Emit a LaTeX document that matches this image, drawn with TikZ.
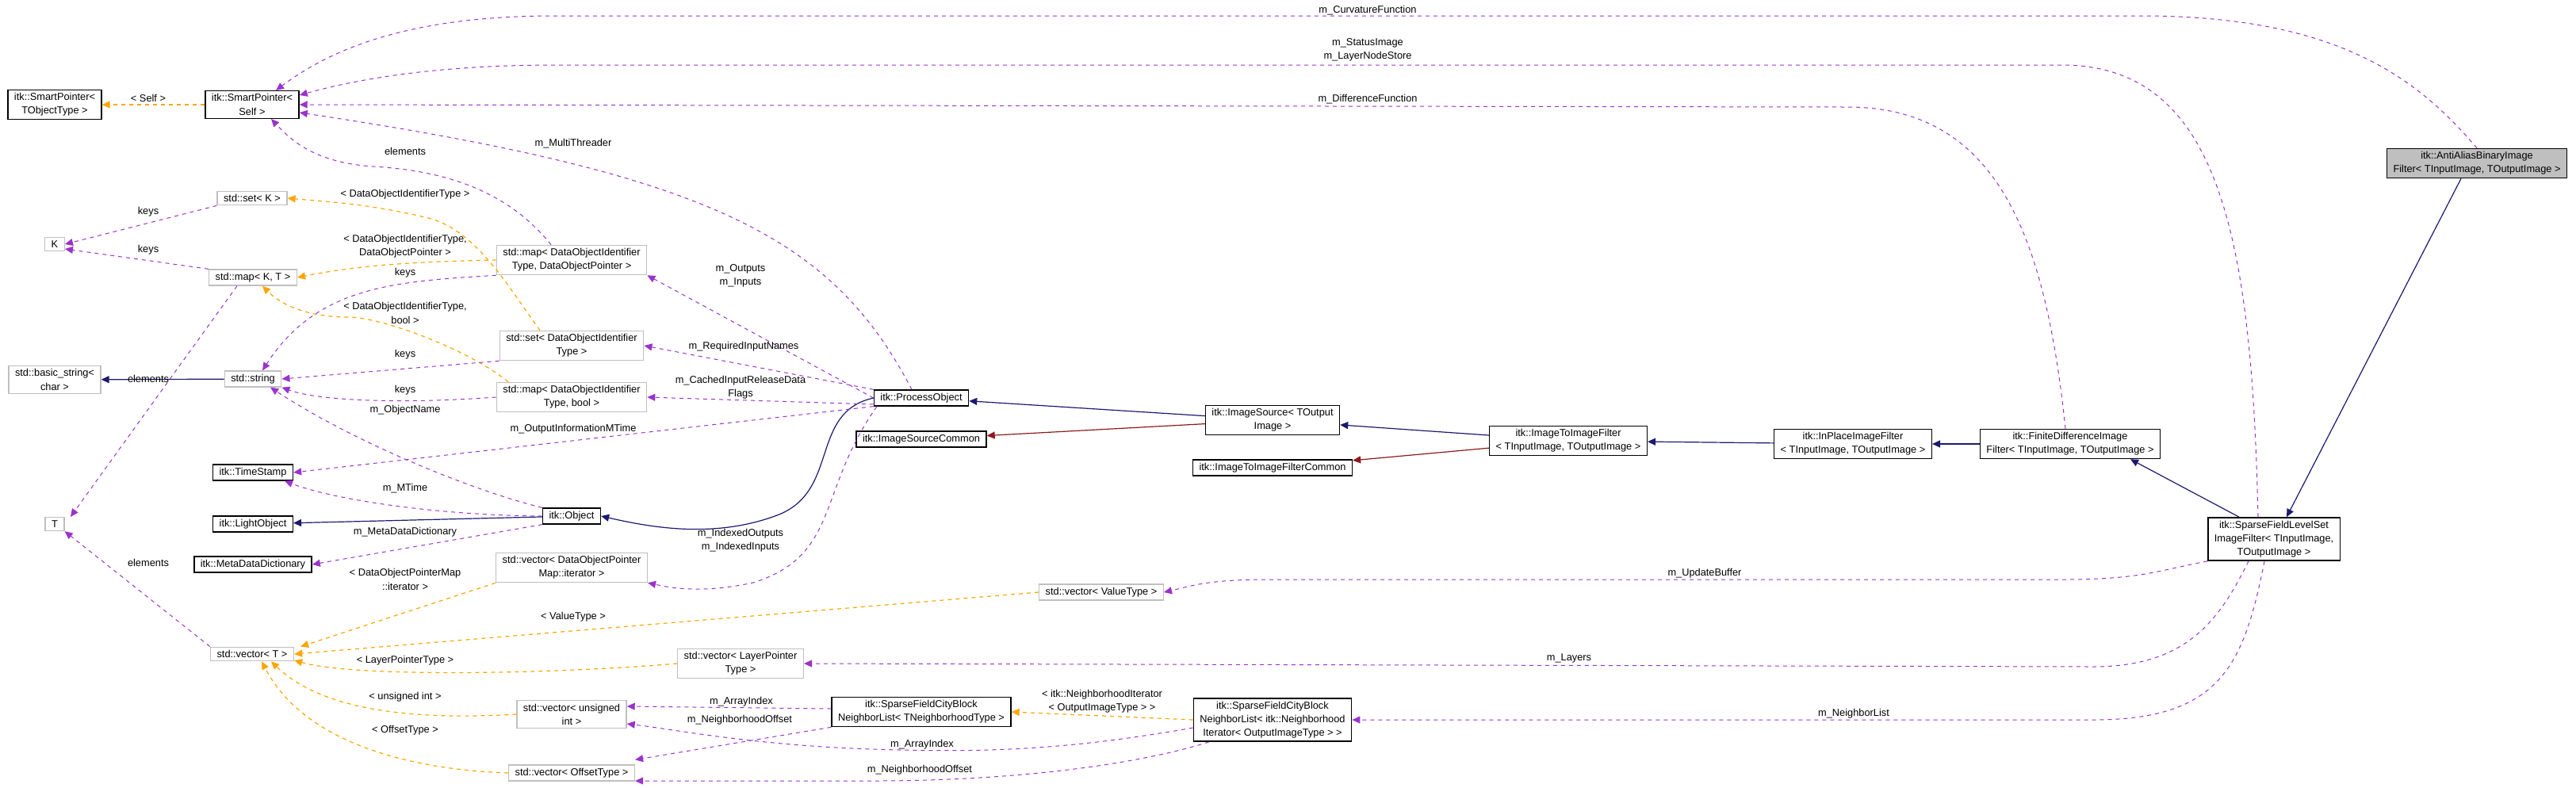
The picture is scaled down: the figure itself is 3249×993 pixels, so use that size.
\documentclass[tikz,border=0pt]{standalone}
\usepackage{fontspec}
\setmainfont{Liberation Sans}
\usetikzlibrary{arrows.meta,positioning,calc}

\definecolor{usecol}{HTML}{9A32CD}
\definecolor{tplcol}{HTML}{FFA500}
\definecolor{inhcol}{HTML}{191970}
\definecolor{comcol}{HTML}{8B1A1A}

\tikzset{
  cls/.style={draw=black, line width=0.7pt, fill=white, inner xsep=4pt, inner ysep=2pt, align=center, font=\fontsize{6.4}{8.6}\selectfont},
  ext/.style={cls, draw=black!25},
  lbl/.style={inner sep=0pt, align=center, font=\fontsize{6.4}{8.6}\selectfont},
  tip/.style={-{Triangle[length=5pt,width=4.5pt]}},
  use/.style={tip, usecol, line width=0.5pt, dash pattern=on 2.5pt off 2.5pt},
  tpl/.style={tip, tplcol, line width=0.6pt, dash pattern=on 2.5pt off 2.5pt},
  inh/.style={tip, inhcol, line width=0.6pt},
  com/.style={tip, comcol, line width=0.6pt}
}

\begin{document}
\begin{tikzpicture}[x=0.5pt, y=-0.5pt]
        \useasboundingbox (0,0) rectangle (3249,993);
        % Classes
        \node[cls] (tobj) at (69,132) {itk::SmartPointer\textless\\TObjectType \textgreater};
        \node[cls] (sps) at (318,132) {itk::SmartPointer\textless\\Self \textgreater};
        \node[ext] (setk) at (318,250) {std::set\textless{} K \textgreater};
        \node[ext] (k) at (69,308) {K};
        \node[ext] (mapkt) at (319,350) {std::map\textless{} K, T \textgreater};
        \node[ext] (mapdop) at (721,328) {std::map\textless{} DataObjectIdentifier\\Type, DataObjectPointer \textgreater};
        \node[ext] (setdoi) at (721,436) {std::set\textless{} DataObjectIdentifier\\Type \textgreater};
        \node[ext] (mapdoib) at (721,501) {std::map\textless{} DataObjectIdentifier\\Type, bool \textgreater};
        \node[ext] (basic) at (69,479) {std::basic\_string\textless\\char \textgreater};
        \node[ext] (string) at (319,478) {std::string};
        \node[cls] (timestamp) at (319,596) {itk::TimeStamp};
        \node[cls] (lightobj) at (319,661) {itk::LightObject};
        \node[cls] (object) at (721,651) {itk::Object};
        \node[ext] (t) at (69,661) {T};
        \node[cls] (mdd) at (319,712) {itk::MetaDataDictionary};
        \node[ext] (vecdopm) at (721,716) {std::vector\textless{} DataObjectPointer\\Map::iterator \textgreater};
        \node[ext] (vect) at (318,825) {std::vector\textless{} T \textgreater};
        \node[ext] (veclpt) at (934,837) {std::vector\textless{} LayerPointer\\Type \textgreater};
        \node[ext] (vecui) at (721,901) {std::vector\textless{} unsigned\\int \textgreater};
        \node[ext] (vecot) at (721,975) {std::vector\textless{} OffsetType \textgreater};
        \node[cls] (procobj) at (1162,502) {itk::ProcessObject};
        \node[cls] (iscommon) at (1162,554) {itk::ImageSourceCommon};
        \node[cls] (imgsource) at (1605,530) {itk::ImageSource\textless{} TOutput\\Image \textgreater};
        \node[cls] (iifcommon) at (1605,590) {itk::ImageToImageFilterCommon};
        \node[cls] (iif) at (1978,556) {itk::ImageToImageFilter\\\textless{} TInputImage, TOutputImage \textgreater};
        \node[ext] (vecvt) at (1389,747) {std::vector\textless{} ValueType \textgreater};
        \node[cls] (nbtempl) at (1162,898) {itk::SparseFieldCityBlock\\NeighborList\textless{} TNeighborhoodType \textgreater};
        \node[cls] (nblist) at (1605,908) {itk::SparseFieldCityBlock\\NeighborList\textless{} itk::Neighborhood\\Iterator\textless{} OutputImageType \textgreater{} \textgreater};
        \node[cls] (inplace) at (2337,560) {itk::InPlaceImageFilter\\\textless{} TInputImage, TOutputImage \textgreater};
        \node[cls] (fdif) at (2611,560) {itk::FiniteDifferenceImage\\Filter\textless{} TInputImage, TOutputImage \textgreater};
        \node[cls] (sfls) at (2868,680) {itk::SparseFieldLevelSet\\ImageFilter\textless{} TInputImage,\\TOutputImage \textgreater};
        \node[cls, fill=black!25] (antialias) at (3124,206) {itk::AntiAliasBinaryImage\\Filter\textless{} TInputImage, TOutputImage \textgreater};

        % Inheritance
        \draw[inh] (string) -- (basic);
        \draw[inh] (object) -- (lightobj);
        \draw[inh] (procobj.west) .. controls (1020,520) and (1060,620) .. (980,650) .. controls (900,680) and (820,665) .. (object.east);
        \draw[inh] (imgsource) -- (procobj);
        \draw[com] (imgsource) -- (iscommon);
        \draw[inh] (iif) -- (imgsource);
        \draw[com] (iif) -- (iifcommon);
        \draw[inh] (inplace) -- (iif);
        \draw[inh] (fdif) -- (inplace);
        \draw[inh] ([xshift=-22pt]sfls.north) -- ([xshift=38pt]fdif.south);
        \draw[inh] ([xshift=-10pt]antialias.south) -- ([xshift=8pt]sfls.north);

        % Template instances
        \draw[tpl] (sps) -- (tobj);
        \draw[tpl] (mapdop.west) .. controls (520,330) and (450,335) .. (mapkt.east);
        \draw[tpl] ([xshift=-40pt]mapdoib.north) .. controls (590,440) and (480,400) .. (440,400) .. controls (380,400) and (350,380) .. ([xshift=6pt]mapkt.south);
        \draw[tpl] ([xshift=-20pt]setdoi.north) .. controls (640,360) and (600,290) .. (540,275) .. controls (470,258) and (420,255) .. (setk.east);
        \draw[tpl] (vecdopm.south west) -- ([xshift=4pt]vect.north east);
        \draw[tpl] (vecvt.west) -- (vect.east);
        \draw[tpl] (veclpt.west) .. controls (700,850) and (450,855) .. ([yshift=-4pt]vect.east);
        \draw[tpl] (vecui.west) .. controls (500,910) and (400,890) .. ([xshift=12pt]vect.south);
        \draw[tpl] (vecot.west) .. controls (500,970) and (380,930) .. ([xshift=6pt]vect.south);
        \draw[tpl] (nblist.west) -- (nbtempl.east);

        % Members
        \draw[use] (antialias.north) .. controls (3050,100) and (2950,20) .. (2700,20) -- (700,20) .. controls (520,20) and (420,60) .. ([xshift=15pt]sps.north);
        \draw[use] ([xshift=-10pt]sfls.north) .. controls (2840,300) and (2800,82) .. (2600,82) -- (700,82) .. controls (550,82) and (450,100) .. ([yshift=6pt]sps.east);
        \draw[use] ([xshift=-3pt]fdif.north) .. controls (2580,300) and (2520,135) .. (2330,135) -- (sps.east);
        \draw[use] ([xshift=-6pt]procobj.north) .. controls (1050,300) and (900,220) .. ([yshift=-5pt]sps.east);
        \draw[use] ([xshift=-13pt]mapdop.north) .. controls (640,240) and (560,215) .. (470,210) .. controls (400,205) and (370,180) .. ([xshift=12pt]sps.south);
        \draw[use] (setk.south west) -- (k.east);
        \draw[use] (mapkt.north west) -- ([yshift=-3pt]k.east);
        \draw[use] ([xshift=-10pt]mapkt.south) -- ([xshift=10pt]t.north);
        \draw[use] (mapdop.south west) .. controls (500,355) and (400,360) .. ([xshift=6pt]string.north);
        \draw[use] (setdoi.south west) -- (string.east);
        \draw[use] (mapdoib.west) .. controls (500,510) and (400,505) .. (string.south east);
        \draw[use] (object.north west) .. controls (600,620) and (450,560) .. ([xshift=11pt]string.south);
        \draw[use] (procobj.south west) -- (timestamp.east);
        \draw[use] (object.west) .. controls (550,650) and (420,630) .. ([xshift=20pt]timestamp.south);
        \draw[use] (object.south west) -- (mdd.east);
        \draw[use] (procobj.west) -- (mapdop.south east);
        \draw[use] (procobj.north west) -- (setdoi.east);
        \draw[use] ([yshift=-4pt]procobj.west) -- (mapdoib.east);
        \draw[use] ([xshift=-28pt]procobj.south) .. controls (1030,620) and (1060,700) .. (950,735) .. controls (880,750) and (840,740) .. (vecdopm.south east);
        \draw[use] (vect.north west) -- (t.south east);
        \draw[use] (sfls.south west) .. controls (2720,720) and (2700,731) .. (2600,731) -- (1600,731) .. controls (1520,731) and (1500,740) .. (vecvt.east);
        \draw[use] ([xshift=-16pt]sfls.south) .. controls (2800,780) and (2760,841) .. (2640,841) -- (veclpt.east);
        \draw[use] ([xshift=-6pt]sfls.south) .. controls (2830,840) and (2800,908) .. (2640,908) -- (nblist.east);
        \draw[use] ([yshift=2pt]nbtempl.west) -- ([yshift=5pt]vecui.east);
        \draw[use] (nbtempl.south west) -- ([yshift=3pt]vecot.north east);
        \draw[use] ([yshift=-5pt]nblist.west) .. controls (1350,945) and (1250,950) .. (1100,945) .. controls (950,940) and (850,920) .. ([yshift=-6pt]vecui.east);
        \draw[use] ([xshift=10pt]nblist.south west) .. controls (1450,960) and (1300,985) .. (1100,985) -- ([yshift=-5pt]vecot.east);

        % Labels
        \node[lbl] (l-curv) at (1725,13) {m\_CurvatureFunction};
        \node[lbl] (l-status) at (1725,63) {m\_StatusImage\\m\_LayerNodeStore};
        \node[lbl] (l-diff) at (1725,125) {m\_DifferenceFunction};
        \node[lbl] (l-thread) at (723,181) {m\_MultiThreader};
        \node[lbl] (l-elem1) at (511,191) {elements};
        \node[lbl] (l-self) at (187,124) {\textless{} Self \textgreater};
        \node[lbl] (l-keys1) at (187,267) {keys};
        \node[lbl] (l-keys2) at (187,315) {keys};
        \node[lbl] (l-elem2) at (187,478) {elements};
        \node[lbl] (l-doi) at (511,245) {\textless{} DataObjectIdentifierType \textgreater};
        \node[lbl] (l-doidop) at (511,311) {\textless{} DataObjectIdentifierType,\\DataObjectPointer \textgreater};
        \node[lbl] (l-keys3) at (511,344) {keys};
        \node[lbl] (l-doibool) at (511,395) {\textless{} DataObjectIdentifierType,\\bool \textgreater};
        \node[lbl] (l-keys4) at (511,447) {keys};
        \node[lbl] (l-keys5) at (511,492) {keys};
        \node[lbl] (l-objname) at (511,517) {m\_ObjectName};
        \node[lbl] (l-outinfo) at (723,541) {m\_OutputInformationMTime};
        \node[lbl] (l-mtime) at (511,616) {m\_MTime};
        \node[lbl] (l-mdd) at (511,671) {m\_MetaDataDictionary};
        \node[lbl] (l-outputs) at (934,348) {m\_Outputs\\m\_Inputs};
        \node[lbl] (l-reqin) at (938,437) {m\_RequiredInputNames};
        \node[lbl] (l-cached) at (934,489) {m\_CachedInputReleaseData\\Flags};
        \node[lbl] (l-indexed) at (934,682) {m\_IndexedOutputs\\m\_IndexedInputs};
        \node[lbl] (l-elem3) at (187,710) {elements};
        \node[lbl] (l-dopm) at (511,731) {\textless{} DataObjectPointerMap\\::iterator \textgreater};
        \node[lbl] (l-vt) at (723,778) {\textless{} ValueType \textgreater};
        \node[lbl] (l-lpt) at (511,833) {\textless{} LayerPointerType \textgreater};
        \node[lbl] (l-ui) at (511,879) {\textless{} unsigned int \textgreater};
        \node[lbl] (l-ot) at (511,921) {\textless{} OffsetType \textgreater};
        \node[lbl] (l-update) at (2150,723) {m\_UpdateBuffer};
        \node[lbl] (l-layers) at (1979,830) {m\_Layers};
        \node[lbl] (l-nblist) at (2338,900) {m\_NeighborList};
        \node[lbl] (l-nbiter) at (1390,885) {\textless{} itk::NeighborhoodIterator\\\textless{} OutputImageType \textgreater{} \textgreater};
        \node[lbl] (l-arr1) at (935,885) {m\_ArrayIndex};
        \node[lbl] (l-off1) at (933,908) {m\_NeighborhoodOffset};
        \node[lbl] (l-arr2) at (1163,939) {m\_ArrayIndex};
        \node[lbl] (l-off2) at (1160,971) {m\_NeighborhoodOffset};
      \end{tikzpicture}
\end{document}
